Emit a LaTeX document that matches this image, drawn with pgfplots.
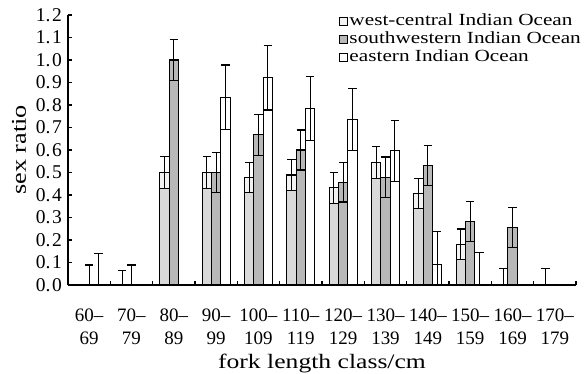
\documentclass[border=0pt]{standalone}
\usepackage{fontspec}
\setmainfont{Liberation Serif}
\newfontfamily\widefont{Liberation Serif}[FakeStretch=1.25]
\usepackage{pgfplots}
\usepackage{pgfplotstable}
\pgfplotsset{compat=1.18}

\definecolor{wclow}{gray}{0.85}
\definecolor{wctop}{gray}{0.95}
\definecolor{swfill}{gray}{0.72}

% x: class index, v: sex ratio, ep/em: error above/below, low: v - em
\pgfplotstableread{
x v ep em low
0 0 0 0 0
1 0 0.065 0 0
2 0.500 0.070 0.070 0.430
3 0.500 0.070 0.070 0.430
4 0.477 0.067 0.067 0.410
5 0.489 0.070 0.070 0.419
6 0.432 0.069 0.069 0.363
7 0.545 0.070 0.070 0.475
8 0.407 0.067 0.067 0.340
9 0.181 0.068 0.068 0.113
10 0 0.074 0 0
11 0 0.074 0 0
}\westcentral

\pgfplotstableread{
x v ep em low
0 0 0.089 0 0
1 0 0.089 0 0
2 1.000 0.090 0.090 0.910
3 0.500 0.087 0.087 0.413
4 0.667 0.090 0.090 0.577
5 0.600 0.089 0.089 0.511
6 0.456 0.087 0.087 0.369
7 0.479 0.090 0.090 0.389
8 0.530 0.089 0.089 0.441
9 0.284 0.089 0.089 0.195
10 0.255 0.090 0.090 0.165
11 0 0 0 0
}\southwestern

\pgfplotstableread{
x v ep em low
0 0 0.140 0 0
1 0 0 0 0
2 0 0 0 0
3 0.834 0.144 0.144 0.690
4 0.921 0.143 0.143 0.778
5 0.785 0.141 0.141 0.644
6 0.736 0.138 0.138 0.598
7 0.597 0.136 0.136 0.461
8 0.093 0.144 0.093 0
9 0 0.145 0 0
10 0 0 0 0
11 0 0 0 0
}\eastern

\pgfplotsset{
  sexbar/.style={ybar, bar width=0.22, bar shift=0, draw=black, line width=1.1pt, forget plot},
  witherr/.style={
    error bars/.cd, y dir=both, y explicit,
    error bar style={line width=1.1pt, black},
    error mark options={rotate=90, black, mark size=4.2pt, line width=1.1pt}},
}

\begin{document}
\begin{tikzpicture}
\useasboundingbox (-68pt,-88pt) rectangle (519pt,285pt);
\begin{axis}[
  scale only axis, width=508pt, height=270pt,
  xmin=-0.5, xmax=11.5, ymin=0, ymax=1.2,
  clip=false,
  axis lines*=left,
  axis line style={line width=1.4pt},
  tick align=inside, major tick length=4pt,
  tick style={line width=1.1pt, black},
  xtick={-0.5,0.5,...,11.5}, xticklabels={},
  extra x ticks={0,1,2,3,4,5,6,7,8,9,10,11},
  extra x tick labels={{60--\\69},{70--\\79},{80--\\89},{90--\\99},{100--\\109},{110--\\119},{120--\\129},{130--\\139},{140--\\149},{150--\\159},{160--\\169},{170--\\179}},
  extra x tick style={major tick length=0pt,
    xticklabel style={align=center, anchor=north, inner sep=0pt, yshift=-24pt,
      font=\fontsize{19}{22.5}\selectfont}},
  ytick={0,0.1,0.2,0.3,0.4,0.5,0.6,0.7,0.8,0.9,1.0,1.1,1.2},
  yticklabel style={font=\fontsize{19.5}{20}\selectfont, inner sep=0pt, xshift=-6pt},
  /pgf/number format/.cd, fixed, fixed zerofill, precision=1, assume math mode=true,
  set decimal separator={.\kern1.5pt},
  /pgfplots/.cd,
  ylabel={sex ratio},
  every axis y label/.style={at={([xshift=-49pt]axis description cs:0,0.5)},
    rotate=90, anchor=center, font=\widefont\fontsize{21}{22}\selectfont},
  xlabel={fork length class/cm},
  every axis x label/.style={at={([yshift=-83pt]axis description cs:0.5,0)},
    anchor=base, font=\widefont\fontsize{20.5}{22}\selectfont},
  legend cell align=left,
  legend style={at={(1,1)}, anchor=north east, xshift=6pt, yshift=3pt,
    draw=none, fill=none, inner sep=0pt, row sep=0pt,
    font=\widefont\fontsize{17}{19}\selectfont,
    nodes={inner sep=1pt, text height=12.5pt, text depth=3.5pt}},
]
% full bars with error bars; each series sits in its own slot of the class
\addplot[sexbar, fill=wctop, witherr]
  table[x expr=\thisrow{x}-0.22, y=v, y error plus=ep, y error minus=em]{\westcentral};
\addplot[sexbar, fill=swfill, witherr]
  table[x=x, y=v, y error plus=ep, y error minus=em]{\southwestern};
\addplot[sexbar, fill=white, witherr]
  table[x expr=\thisrow{x}+0.22, y=v, y error plus=ep, y error minus=em]{\eastern};
% lower parts of the bars, up to the lower error limit
\addplot[sexbar, fill=wclow] table[x expr=\thisrow{x}-0.22, y=low]{\westcentral};
\addplot[sexbar, fill=swfill] table[x=x, y=low]{\southwestern};
\addplot[sexbar, fill=white] table[x expr=\thisrow{x}+0.22, y=low]{\eastern};

\addlegendimage{legend image code/.code={\draw[fill=wctop, line width=1.1pt] (0pt,-4pt) rectangle (8pt,4pt);}}
\addlegendentry{west-central Indian Ocean}
\addlegendimage{legend image code/.code={\draw[fill=swfill, line width=1.1pt] (0pt,-4pt) rectangle (8pt,4pt);}}
\addlegendentry{southwestern Indian Ocean}
\addlegendimage{legend image code/.code={\draw[fill=white, line width=1.1pt] (0pt,-4pt) rectangle (8pt,4pt);}}
\addlegendentry{eastern Indian Ocean}
\end{axis}
\end{tikzpicture}
\end{document}
